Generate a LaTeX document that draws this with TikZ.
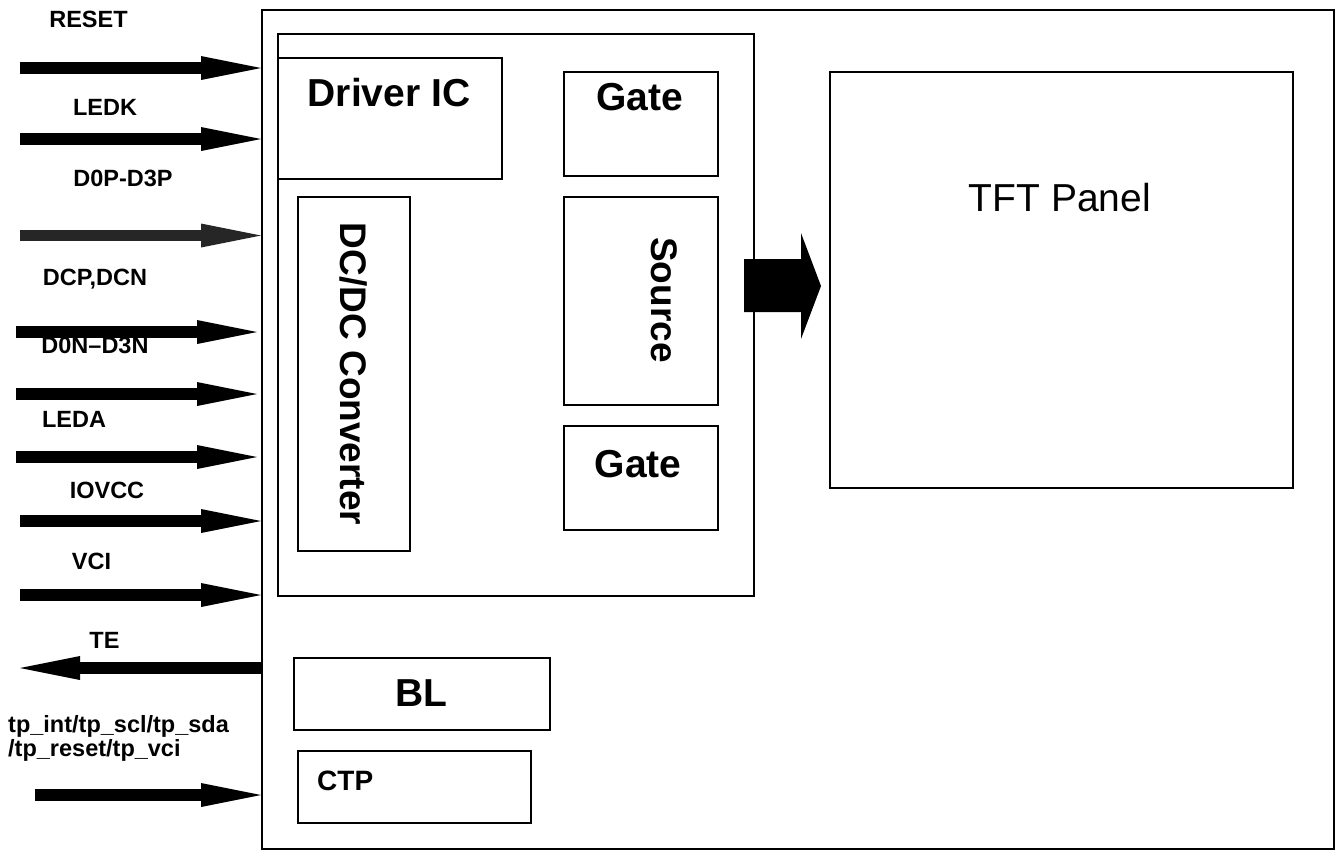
\documentclass[tikz,border=0pt]{standalone}
\usepackage{fontspec}
\setmainfont{Liberation Sans}
\usetikzlibrary{arrows.meta}
\begin{document}
\begin{tikzpicture}[x=1pt,y=-1pt,
  box/.style={draw=black,line width=1.8pt,rectangle,inner sep=0pt,anchor=north west},
  lbl/.style={inner sep=0pt,font=\fontsize{23.5}{23.5}\selectfont\bfseries,text height=16.8pt,text depth=0pt},
  big/.style={inner sep=0pt,font=\fontsize{39}{39}\selectfont\bfseries,text height=28pt,text depth=0pt},
  vert/.style={inner sep=0pt,font=\fontsize{37}{37}\selectfont\bfseries,rotate=-90},
  sig/.style={line width=12pt,-{Triangle[length=60pt,width=24pt,line width=0pt]}},
]
\useasboundingbox (0,0) rectangle (1340,849);
\fill[white] (0,0) rectangle (1340,849);
% boxes
\node[box,line width=2.4pt,minimum width=1072pt,minimum height=839pt] (outer) at (261,9) {};
\node[box,minimum width=476pt,minimum height=562pt] (cont) at (277,33) {};
\node[box,minimum width=224pt,minimum height=121pt] (drv) at (277,57) {};
\node[box,minimum width=154pt,minimum height=104pt] (gate1) at (563,71) {};
\node[box,minimum width=154pt,minimum height=208pt] (src) at (563,196) {};
\node[box,minimum width=154pt,minimum height=104pt] (gate2) at (563,425) {};
\node[box,minimum width=112pt,minimum height=354pt] (dcdc) at (297,196) {};
\node[box,line width=1.6pt,minimum width=463pt,minimum height=416pt] (tft) at (829,71) {};
\node[box,minimum width=256pt,minimum height=72pt] (bl) at (293,657) {};
\node[box,minimum width=233pt,minimum height=72pt] (ctp) at (297,750) {};
% box texts
\node[big] (tdrv) at (389,92) {Driver IC};
\node[big] (tg1) at (640,96) {Gate};
\node[big] (tg2) at (638,463) {Gate};
\node[vert] (tsrc) at (664,300) {Source};
\node[vert] (tdc) at (354,374) {DC/DC Converter};
\node[inner sep=0pt,font=\fontsize{39}{39}\selectfont,text height=28pt,text depth=0pt] (ttft) at (1060,197) {TFT Panel};
\node[big] (tbl) at (421,692) {BL};
\node[inner sep=0pt,font=\fontsize{28}{28}\selectfont\bfseries,text height=20pt,text depth=0pt,anchor=west] (tctp) at (317,780) {CTP};
% fat arrow source -> panel
\fill[black] (744,259) -- (801,259) -- (801,233) -- (821,286) -- (801,339) -- (801,312) -- (744,312) -- cycle;
% signal labels
\node[lbl] (lreset) at (88.5,19.5) {RESET};
\node[lbl] (lledk) at (105,107) {LEDK};
\node[lbl] (ld0p) at (123,178) {D0P-D3P};
\node[lbl] (ldcp) at (95,277) {DCP,DCN};
\node[lbl] (ld0n) at (95,345.5) {D0N–D3N};
\node[lbl] (lleda) at (74,419) {LEDA};
\node[lbl] (liovcc) at (107,490) {IOVCC};
\node[lbl] (lvci) at (91.5,561) {VCI};
\node[lbl] (lte) at (104.5,640) {TE};
\node[lbl,anchor=west] (ltp1) at (8,724.5) {tp\_int/tp\_scl/tp\_sda};
\node[lbl,anchor=west] (ltp2) at (8,748.5) {/tp\_reset/tp\_vci};
% signal arrows
\coordinate (sreset) at (20,68);
\coordinate (sledk) at (20,139);
\coordinate (sd0p) at (20,235.5);
\coordinate (sdcp) at (16,332);
\coordinate (sd0n) at (16,394);
\coordinate (sleda) at (16,457);
\coordinate (siovcc) at (20,521);
\coordinate (svci) at (20,595);
\coordinate (ste) at (20,668);
\coordinate (stp) at (35,795);
\draw[sig] (sreset) -- (sreset -| outer.west);
\draw[sig] (sledk) -- (sledk -| outer.west);
\draw[sig,draw=black!85,line width=11pt] (sd0p) -- (sd0p -| outer.west);
\draw[sig,shorten >=4pt] (sdcp) -- (sdcp -| outer.west);
\draw[sig,shorten >=4pt] (sd0n) -- (sd0n -| outer.west);
\draw[sig,shorten >=4pt] (sleda) -- (sleda -| outer.west);
\draw[sig] (siovcc) -- (siovcc -| outer.west);
\draw[sig] (svci) -- (svci -| outer.west);
\draw[sig] (ste -| outer.west) -- (ste);
\draw[sig] (stp) -- (stp -| outer.west);
\end{tikzpicture}
\end{document}
